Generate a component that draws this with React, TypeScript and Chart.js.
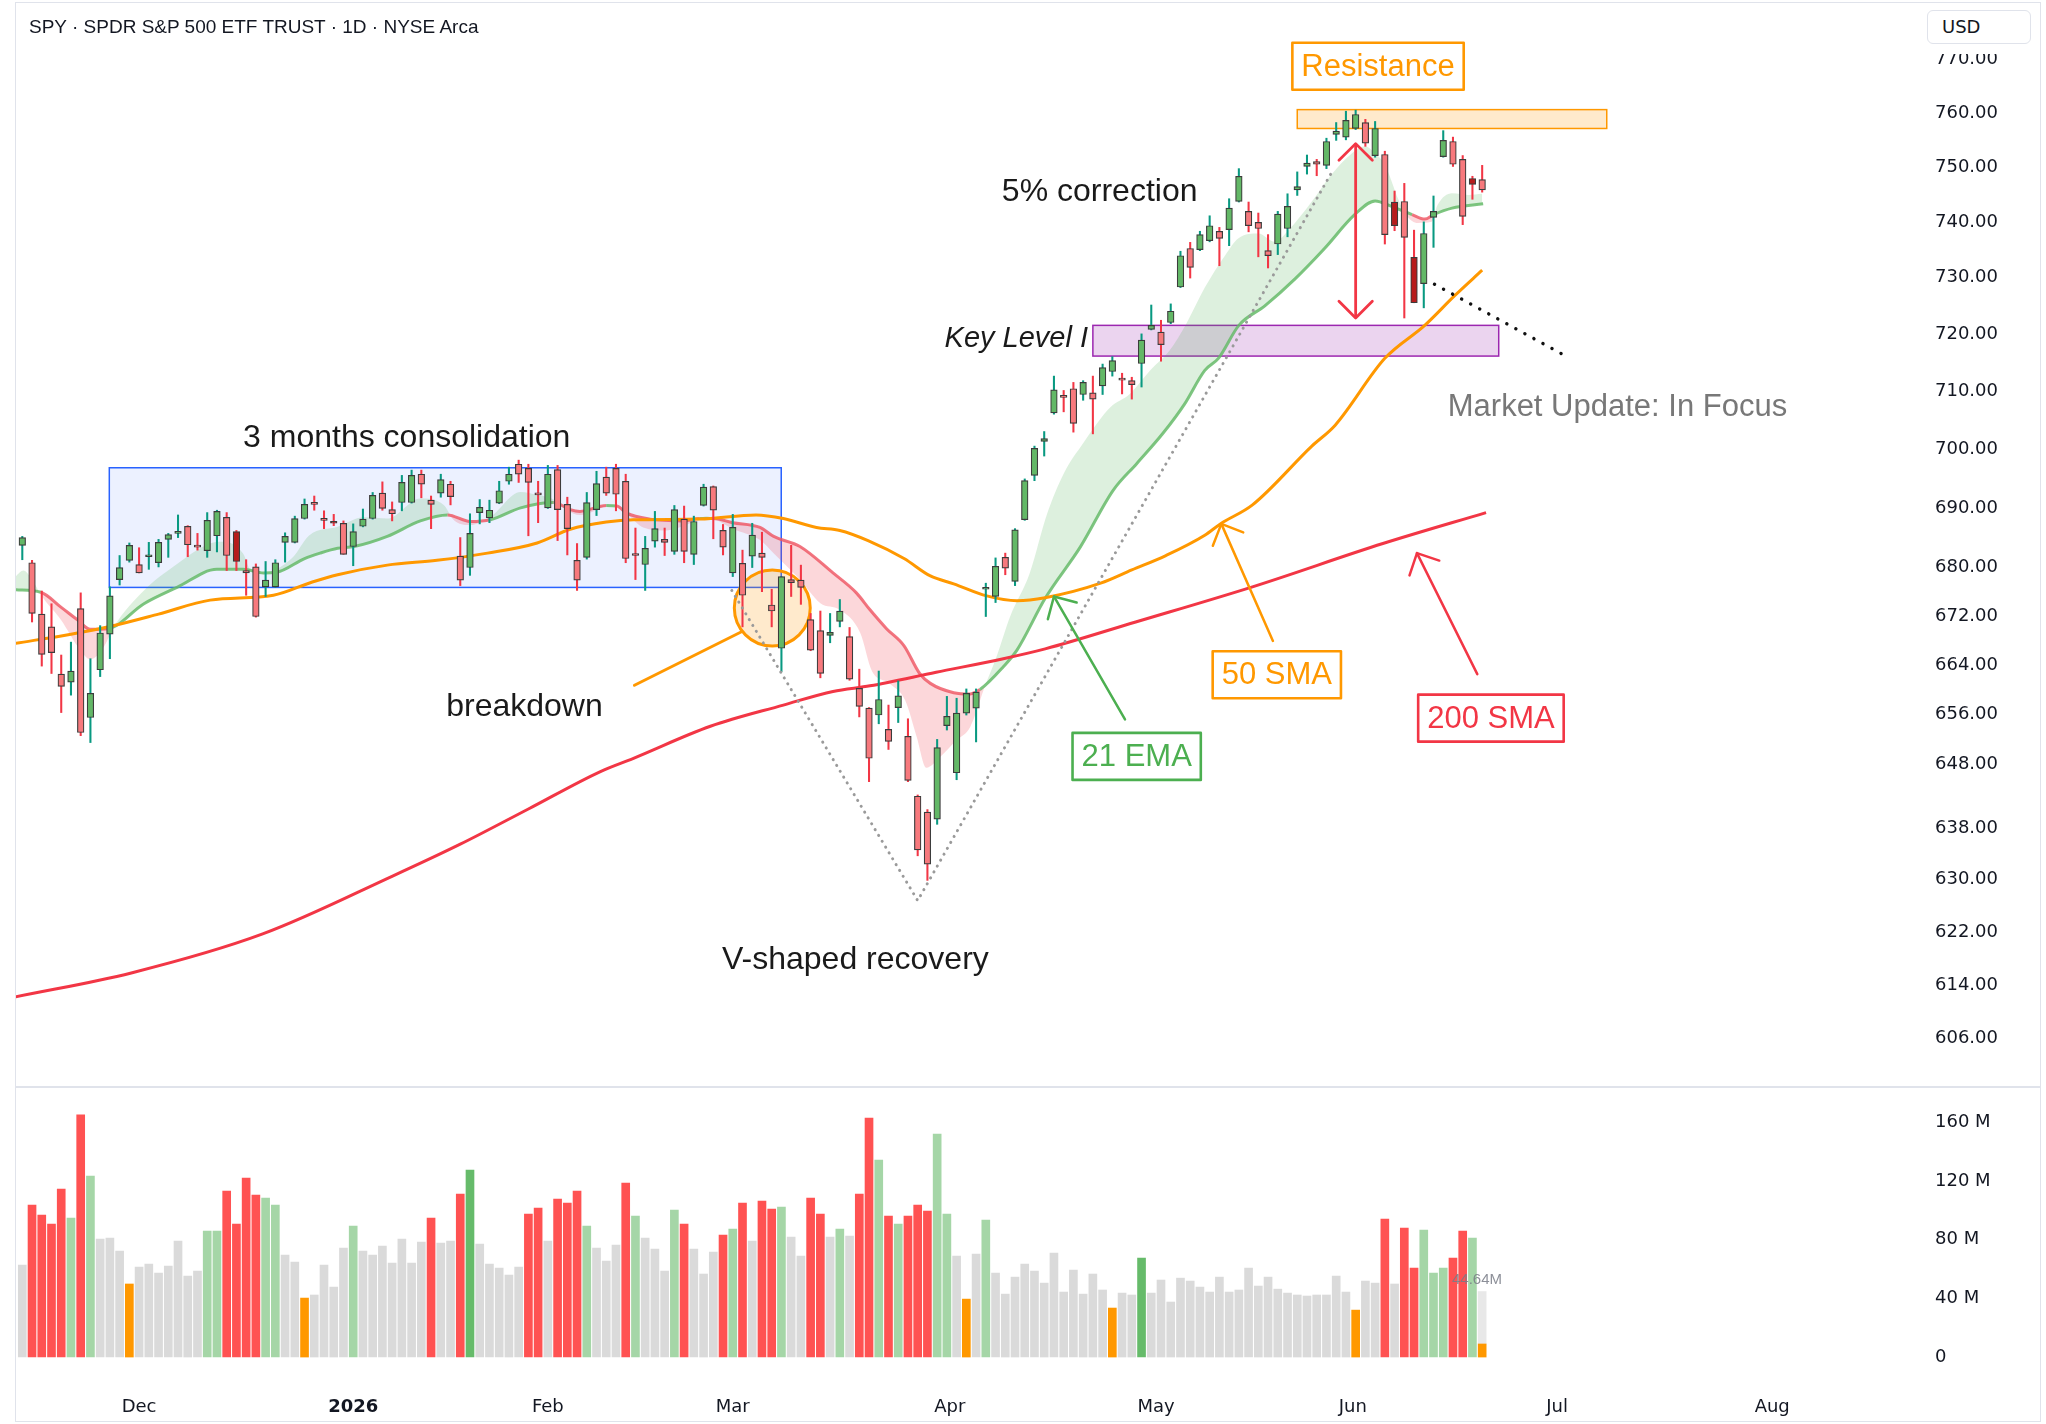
import React, { useEffect, useRef } from 'react';
import { Chart, registerables } from 'chart.js';

Chart.register(...registerables);

// ---------------- data ----------------
const OPEN = [
  683.7, 680.8, 672.3, 670.2, 662.5, 661.2, 673.2, 655.5, 663.2, 669.0,
  678.0, 681.2, 680.5, 681.8, 680.8, 684.7, 685.7, 686.9, 683.5, 682.8,
  685.3, 688.4, 686.0, 679.5, 680.1, 676.8, 676.8, 684.2, 684.2, 688.2,
  690.9, 688.2, 687.7, 687.4, 683.5, 686.9, 688.2, 692.5, 689.7, 690.9,
  690.9, 695.7, 691.3, 692.5, 694.0, 681.9, 680.0, 689.2, 688.3, 690.8,
  694.5, 697.4, 696.7, 692.3, 690.0, 696.5, 690.6, 681.2, 681.7, 689.7,
  695.2, 696.7, 694.5, 682.1, 680.5, 684.4, 684.7, 682.7, 688.1, 682.2,
  690.4, 693.6, 686.2, 679.1, 680.7, 681.9, 682.4, 673.8, 666.7, 678.0,
  677.9, 671.4, 669.6, 668.8, 671.1, 668.6, 660.2, 657.0, 655.9, 653.6,
  657.1, 652.5, 643.0, 640.5, 639.4, 654.2, 646.7, 656.2, 657.0, 676.4,
  675.2, 681.7, 677.7, 688.0, 695.5, 701.3, 706.2, 709.0, 710.4, 709.4,
  709.7, 710.9, 713.4, 712.0, 711.8, 714.8, 720.8, 720.3, 722.0, 728.3,
  735.2, 735.0, 736.6, 738.3, 738.6, 743.7, 741.9, 739.9, 734.8, 736.0,
  738.8, 745.8, 750.1, 751.0, 750.3, 756.0, 755.5, 757.1, 758.2, 752.1,
  752.3, 743.6, 743.7, 733.6, 728.9, 740.8, 751.9, 754.7, 751.4, 747.9, 747.7,
];
const HIGH = [
  685.2, 681.2, 676.1, 674.0, 665.6, 667.7, 675.8, 665.0, 670.4, 676.8,
  682.0, 684.1, 683.3, 684.2, 684.7, 685.7, 688.8, 687.0, 685.7, 689.2,
  689.6, 689.2, 686.2, 681.3, 680.6, 681.0, 681.3, 685.8, 688.6, 691.5,
  692.0, 689.5, 688.9, 687.8, 687.3, 689.8, 692.6, 694.4, 691.0, 695.5,
  696.4, 696.4, 692.0, 695.7, 694.5, 685.0, 689.0, 691.4, 691.3, 694.5,
  696.9, 698.1, 697.4, 694.5, 697.2, 697.2, 691.8, 684.0, 692.6, 696.2,
  696.9, 697.4, 695.7, 686.6, 685.2, 689.4, 686.6, 690.4, 690.3, 688.6,
  694.0, 693.7, 687.2, 688.9, 682.9, 687.4, 685.9, 676.4, 678.5, 683.7,
  680.4, 672.4, 672.8, 672.4, 674.7, 670.1, 663.3, 657.1, 663.0, 657.5,
  661.4, 655.3, 643.2, 640.9, 652.0, 658.9, 658.6, 660.1, 660.1, 677.4,
  681.6, 682.4, 686.5, 694.9, 700.5, 703.0, 712.6, 710.1, 711.5, 711.8,
  712.6, 714.7, 716.0, 713.1, 712.4, 720.0, 725.1, 722.4, 725.3, 734.7,
  736.3, 738.3, 741.1, 739.0, 744.2, 749.7, 743.6, 741.6, 737.7, 741.9,
  745.1, 749.1, 752.2, 751.4, 755.3, 758.2, 760.3, 760.5, 758.8, 758.4,
  752.9, 745.6, 747.0, 738.5, 740.0, 744.7, 756.7, 755.5, 752.1, 748.3, 750.3,
];
const LOW = [
  681.3, 671.0, 663.8, 662.6, 656.3, 659.1, 652.6, 651.5, 662.1, 665.0,
  677.1, 680.9, 679.1, 679.7, 680.1, 681.7, 685.0, 681.8, 682.9, 681.7,
  682.6, 679.5, 679.5, 675.4, 671.8, 675.2, 676.7, 680.9, 684.1, 688.1,
  689.6, 686.5, 687.0, 682.2, 680.3, 686.8, 688.1, 689.6, 687.8, 689.5,
  690.8, 691.7, 686.5, 691.8, 690.5, 677.0, 678.7, 687.3, 687.5, 690.7,
  694.0, 694.3, 685.3, 687.5, 689.9, 684.5, 682.1, 676.2, 681.4, 688.7,
  692.1, 689.5, 680.8, 678.0, 676.2, 683.4, 682.0, 682.2, 680.8, 680.5,
  690.3, 684.8, 682.1, 678.5, 670.2, 680.0, 676.0, 670.2, 662.9, 675.2,
  673.9, 666.3, 661.9, 667.6, 670.2, 661.5, 655.6, 645.3, 654.5, 650.4,
  654.7, 645.3, 633.7, 629.9, 638.6, 653.5, 645.6, 655.9, 651.6, 671.9,
  674.2, 678.8, 677.0, 687.9, 694.6, 698.8, 706.0, 706.4, 702.9, 708.4,
  702.6, 709.4, 712.6, 709.5, 708.6, 710.7, 720.7, 715.2, 721.8, 728.2,
  729.9, 734.8, 736.4, 732.1, 735.7, 743.6, 738.2, 733.7, 731.7, 734.1,
  737.3, 744.8, 748.7, 748.4, 749.7, 754.9, 755.0, 756.9, 753.8, 751.8,
  736.0, 738.4, 722.8, 725.5, 724.6, 735.4, 751.8, 750.1, 739.5, 744.1, 745.4,
];
const CLOSE = [
  685.0, 672.4, 665.7, 666.0, 660.5, 663.0, 653.1, 659.4, 669.2, 675.3,
  680.0, 683.7, 679.1, 682.1, 684.2, 685.5, 686.0, 683.8, 683.4, 687.9,
  689.4, 682.0, 681.0, 679.1, 671.9, 677.9, 680.8, 685.2, 688.2, 690.6,
  690.6, 687.9, 687.4, 682.2, 686.0, 688.1, 692.1, 689.9, 689.0, 694.3,
  695.5, 694.0, 690.6, 694.8, 691.9, 677.9, 685.7, 690.1, 689.6, 692.9,
  695.7, 695.7, 694.3, 692.2, 695.7, 689.7, 686.5, 677.9, 690.9, 694.1,
  692.5, 692.3, 681.5, 682.0, 683.2, 686.5, 684.2, 689.7, 682.7, 687.7,
  693.5, 689.6, 683.4, 686.7, 675.4, 685.4, 681.7, 672.8, 678.5, 677.5,
  676.7, 666.4, 662.6, 669.3, 672.8, 661.7, 657.3, 649.0, 658.4, 651.7,
  659.0, 645.5, 634.6, 632.4, 650.7, 655.7, 656.2, 659.4, 659.6, 676.7,
  680.2, 679.9, 686.3, 694.6, 700.1, 701.8, 710.2, 708.9, 704.4, 711.5,
  708.6, 714.1, 715.3, 711.9, 711.1, 718.9, 721.5, 718.1, 724.0, 733.9,
  731.8, 737.7, 739.3, 737.0, 742.5, 748.3, 739.3, 738.8, 733.9, 741.4,
  742.8, 746.4, 750.7, 750.5, 754.7, 756.6, 758.6, 759.7, 754.4, 757.1,
  737.7, 739.3, 737.2, 725.5, 737.9, 741.9, 754.9, 750.5, 741.0, 746.8, 745.8,
];
// bars drawn with the dark-red body in the reference
const DARK_BARS = [22, 32, 141, 143, 149];

// volume in millions
const VOLUME = [
  62.7, 103.6, 96.8, 90.7, 114.5, 94.7, 165.2, 123.4, 80.4, 81.1,
  72.2, 49.8, 61.3, 63.4, 57.3, 62.0, 79.1, 55.2, 58.6, 85.9,
  85.9, 113.1, 90.7, 122.0, 110.4, 108.4, 103.6, 69.5, 64.8, 40.2,
  42.3, 62.7, 47.7, 74.3, 89.3, 72.2, 69.5, 75.7, 64.1, 80.4,
  64.1, 78.4, 94.7, 77.7, 79.1, 111.1, 127.5, 77.0, 63.4, 60.7,
  55.9, 61.3, 97.5, 101.6, 79.1, 107.7, 105.0, 113.1, 89.3, 74.3,
  65.4, 76.3, 118.6, 96.1, 81.1, 73.6, 58.6, 100.2, 90.7, 73.6,
  56.6, 71.6, 83.2, 87.2, 105.0, 79.1, 106.3, 100.9, 102.2, 81.8,
  68.8, 108.4, 97.5, 81.8, 87.2, 82.5, 111.1, 162.9, 134.3, 96.1,
  90.7, 96.1, 103.6, 99.5, 152.0, 97.5, 68.8, 39.5, 70.2, 93.4,
  57.3, 42.9, 54.5, 63.4, 58.6, 50.4, 70.9, 44.3, 59.3, 42.9,
  56.6, 45.7, 33.4, 43.6, 42.3, 67.5, 43.6, 52.5, 37.5, 53.8,
  51.8, 47.7, 44.3, 54.5, 44.3, 45.7, 60.7, 48.4, 54.5, 46.3,
  43.6, 42.3, 41.6, 42.3, 42.3, 55.2, 44.3, 32.0, 51.8, 50.4,
  94.1, 49.8, 87.9, 60.7, 86.6, 57.3, 60.7, 67.5, 85.9, 81.1, 8.9,
];
// volume bar kind: n = normal, r = heavy down, g = heavy up, G = very heavy up, o = light
const VOLUME_KIND = (
  'nrrrrgrgnn' + 'nonnnnnnng' + 'grrrrggnno' + 'nnnngnnnnn' + 'nnrnnrGnnn' +
  'nnrrnrrrgn' + 'nnrgnnngrn' + 'nnrgrnrrgn' + 'nrrngnrrgr' + 'grrrggnong' +
  'nnnnnnnnnn' + 'nnonnGnnnn' + 'nnnnnnnnnn' + 'nnnnnnnonn' + 'rnrrgggrrgo'
).split('');
const PROJECTED_VOLUME = 44.64;

// moving averages: [bar index, price]
const SMA200 = [
  [-0.7, 612.2], [11.2, 615.8], [24.7, 621.7], [38.1, 630.6], [45.0, 635.5], [52.0, 641.0],
  [59.4, 646.9], [62.8, 649.0], [70.7, 654.1], [78.2, 657.5], [83.3, 659.7], [87.1, 660.6],
  [93.9, 662.8], [100.8, 665.0], [105.1, 666.6], [114.4, 671.0], [126.4, 676.8], [139.8, 684.0],
  [150.4, 689.2],
];
const SMA50 = [
  [-0.7, 667.5], [5, 669.0], [9.1, 670.3], [14, 672.3], [19.3, 674.6], [25.8, 675.4], [29.8, 677.6],
  [32.4, 678.8], [37.5, 680.4], [42.6, 681.2], [47.8, 682.4], [52.9, 684.1], [56.3, 686.4],
  [60, 687.6], [62.8, 688.0], [69.6, 688.1], [75.4, 688.8], [78.2, 688.2], [81.6, 686.7],
  [84.0, 686.2], [86.9, 684.5], [90.6, 681.5], [93.3, 678.6], [95.7, 677.3], [99.1, 675.3],
  [102.2, 674.5], [105.1, 675.0], [110.8, 677.4], [114, 679.6], [117.5, 682.0], [121.5, 685.4],
  [123.1, 687.3], [126.4, 690.5], [132.5, 700.5], [134.9, 704.1], [140.0, 715.7], [144.1, 721.5],
  [147.2, 726.8], [150.0, 731.3],
];
const EMA21 = [
  [-0.7, 676.3], [1.9, 675.9], [4.0, 673.4], [5.7, 671.3], [7.0, 669.8], [8.8, 669.9],
  [12.5, 674.0], [15.9, 676.7], [20.0, 679.7], [22.7, 679.7], [24.8, 679.1], [26.1, 679.2],
  [29.0, 681.5], [30.6, 682.4], [32.4, 683.2], [34.1, 683.5], [37.5, 685.2], [40.9, 687.8],
  [43.7, 688.8], [46.0, 687.7], [48.1, 688.0], [51.2, 690.0], [54.6, 690.9], [56.3, 689.7],
  [57.3, 689.4], [60.0, 690.4], [61.1, 690.3], [62.1, 689.1], [64.5, 688.1], [67.9, 687.8],
  [69.6, 688.2], [71.0, 688.2], [73.0, 687.5], [75.8, 686.7], [77.2, 685.2], [79.9, 683.5],
  [83.3, 679.1], [85.7, 675.8], [87.1, 673.0], [88.8, 669.9], [90.6, 667.1], [92.2, 662.6],
  [93.3, 661.0], [95.7, 659.5], [97.4, 659.3], [98.4, 660.0], [100.8, 663.7], [102.2, 666.4],
  [105.1, 674.9], [108.7, 683.4], [112.1, 693.0], [114.5, 697.5], [117.2, 702.7],
  [119.4, 707.7], [121.5, 713.6], [122.9, 715.7], [125.0, 721.5], [127.7, 725.0], [130.8, 729.8],
  [133.8, 735.2], [136.9, 741.3], [139.0, 743.8], [140.7, 742.8], [142.8, 741.3], [144.1, 740.5],
  [145.0, 741.3], [146.9, 742.5], [150.1, 743.3],
];
// fast EMA that bounds the cloud
const EMA_FAST = [
  [-0.7, 678.5], [0.1, 679.5], [1.0, 678.0], [1.9, 675.5], [4.0, 671.3], [5.7, 667.0], [7.0, 664.9],
  [8.4, 667.0], [9.4, 670.2], [12.5, 676.2], [15.9, 680.6], [19.3, 684.0], [20.6, 684.3],
  [22.7, 682.3], [23.4, 679.7], [24.8, 679.0], [26.1, 679.7], [27.8, 681.7], [29.5, 685.4],
  [32.4, 686.8], [35.1, 688.4], [37.5, 688.2], [40.9, 691.6], [43.3, 690.5], [44.3, 688.0],
  [46.0, 687.1], [48.1, 688.5], [51.2, 692.7], [52.9, 692.2], [54.6, 691.4], [55.9, 689.7],
  [57.3, 688.8], [60.7, 690.5], [62.1, 689.0], [63.8, 686.7], [66.2, 686.2], [68.2, 687.1],
  [69.6, 688.2], [70.3, 688.6], [71.0, 688.2], [73.0, 686.5], [75.8, 684.6], [77.2, 682.4],
  [79.9, 678.0], [82.0, 674.1], [84.0, 673.0], [86.1, 669.2], [87.3, 663.0], [89.1, 661.0],
  [90.7, 658.3], [91.9, 652.4], [92.9, 647.5], [94.3, 649.2], [96.0, 651.9], [97.4, 654.0],
  [98.9, 660.5], [100.1, 665.3], [101.5, 671.9], [103.5, 679.0], [105.3, 689.0], [107.0, 695.8],
  [109.0, 701.0], [111.8, 707.2], [113.8, 709.5], [115.9, 713.6], [117.9, 717.1], [119.6, 721.8],
  [121.5, 728.2], [123.6, 734.0], [125.0, 737.1], [127.0, 737.9], [128.7, 736.4], [130.1, 738.5],
  [132.5, 743.7], [134.5, 748.6], [136.6, 752.5], [138.0, 753.8], [138.8, 752.8], [140.0, 750.4],
  [141.4, 744.0], [142.2, 741.2], [143.4, 739.8], [144.8, 740.0], [145.4, 743.0], [146.9, 745.2],
  [148.6, 744.9], [150.0, 745.1],
];

const PRICE_TICKS = [606, 614, 622, 630, 638, 648, 656, 664, 672, 680, 690, 700, 710, 720, 730, 740, 750, 760, 770];
const VOLUME_TICKS = [0, 40, 80, 120, 160];
const MONTH_TICKS = [12, 34, 54, 73, 95.3, 116.5, 136.7, 157.7, 179.8];
const MONTH_LABELS = ['Dec', '2026', 'Feb', 'Mar', 'Apr', 'May', 'Jun', 'Jul', 'Aug'];

// ---------------- drawings (anchored in data coordinates) ----------------
const ZONES = [
  { x0: 8.94, x1: 77.98, top: 696.8, bottom: 676.7, fill: 'rgba(41,98,255,0.09)', stroke: '#2962ff' },
  { x0: 110.0, x1: 151.7, top: 721.5, bottom: 716.1, fill: 'rgba(156,39,176,0.2)', stroke: '#9c27b0' },
  { x0: 131.0, x1: 162.8, top: 760.6, bottom: 757.1, fill: 'rgba(255,152,0,0.2)', stroke: '#ff9800' },
];
const BREAKDOWN_CIRCLE = { x: 77.06, y: 673.3, r: 3.9 };
const BREAKDOWN_POINTER = [[73.9, 669.4], [62.9, 660.7]];
const V_PATH = [[72.9, 676.2], [92.0, 626.8], [134.6, 749.2]];
const PROJECTION_PATH = [[145.1, 728.8], [158.7, 716.0]];
const CORRECTION_ARROW = { x: 137.0, top: 754.3, bottom: 722.8 };
const POINTERS = [
  { from: [113.3, 655.2], to: [106.0, 675.2], color: '#4caf50' },
  { from: [128.5, 667.9], to: [123.2, 687.3], color: '#ff9800' },
  { from: [149.5, 662.5], to: [143.3, 682.4], color: '#f23645' },
];
const TAGS = [
  { text: 'Resistance', x: 139.3, y: 768.7, color: '#ff9800' },
  { text: '21 EMA', x: 114.5, y: 649.3, color: '#4caf50' },
  { text: '50 SMA', x: 128.9, y: 662.4, color: '#ff9800' },
  { text: '200 SMA', x: 150.9, y: 655.4, color: '#f23645' },
];
const NOTES = [
  { text: '3 months consolidation', x: 39.5, y: 702.1, size: 32, color: '#1a1a1a', italic: false, align: 'center' },
  { text: 'breakdown', x: 51.6, y: 657.4, size: 32, color: '#1a1a1a', italic: false, align: 'center' },
  { text: 'V-shaped recovery', x: 85.6, y: 617.8, size: 32, color: '#1a1a1a', italic: false, align: 'center' },
  { text: '5% correction', x: 110.7, y: 745.5, size: 32, color: '#1a1a1a', italic: false, align: 'center' },
  { text: 'Key Level I', x: 109.5, y: 719.3, size: 29, color: '#1a1a1a', italic: true, align: 'right' },
  { text: 'Market Update: In Focus', x: 163.9, y: 707.3, size: 31, color: '#787878', italic: false, align: 'center' },
];

// ---------------- geometry / style ----------------
const X_MIN = -0.647;
const X_MAX = 195.5;
const P_MIN = 599.0;
const P_MAX = 780.7;
const V_MIN = -17.7;
const V_MAX = 184.1;
const AXIS_W = 116;
const TEXT_FONT = '"Liberation Sans", Arial, sans-serif';
const AXIS_FONT = 'DejaVu Sans';

const UP_BODY = '#63b867';
const DOWN_BODY = '#f7797d';
const DARK_BODY = '#b71c1c';
const UP_WICK = '#089981';
const DOWN_WICK = '#f23645';
const EMA_UP = 'rgba(102,187,106,0.85)';
const EMA_DOWN = 'rgba(239,83,96,0.8)';
const VOL_COLORS: Record<string, string> = { n: '#dadada', r: '#ff5252', g: '#a5d6a7', G: '#66bb6a', o: '#ff9800' };

const valueAt = (series: number[][], x: number) => {
  if (x <= series[0][0]) return series[0][1];
  for (let k = 1; k < series.length; k++) {
    if (x <= series[k][0]) {
      const [x0, y0] = series[k - 1];
      const [x1, y1] = series[k];
      return y0 + ((y1 - y0) * (x - x0)) / (x1 - x0);
    }
  }
  return series[series.length - 1][1];
};

const toXY = (s: number[][]) => s.map(([x, y]) => ({ x, y }));
const idx = OPEN.map((_, i) => i);

function arrowHead(ctx: CanvasRenderingContext2D, tx: number, ty: number, fx: number, fy: number, len: number, deg: number) {
  const a = Math.atan2(fy - ty, fx - tx);
  const d = (deg * Math.PI) / 180;
  ctx.beginPath();
  ctx.moveTo(tx + len * Math.cos(a + d), ty + len * Math.sin(a + d));
  ctx.lineTo(tx, ty);
  ctx.lineTo(tx + len * Math.cos(a - d), ty + len * Math.sin(a - d));
  ctx.stroke();
}

const priceDrawings = {
  id: 'priceDrawings',
  beforeDatasetsDraw(chart: any) {
    const { ctx } = chart;
    const X = chart.scales.x;
    const Y = chart.scales.y;
    ctx.save();
    for (const z of ZONES) {
      const x0 = X.getPixelForValue(z.x0);
      const x1 = X.getPixelForValue(z.x1);
      const y0 = Y.getPixelForValue(z.top);
      const y1 = Y.getPixelForValue(z.bottom);
      ctx.fillStyle = z.fill;
      ctx.fillRect(x0, y0, x1 - x0, y1 - y0);
      ctx.strokeStyle = z.stroke;
      ctx.lineWidth = 1.5;
      ctx.strokeRect(x0, y0, x1 - x0, y1 - y0);
    }
    const cx = X.getPixelForValue(BREAKDOWN_CIRCLE.x);
    const cy = Y.getPixelForValue(BREAKDOWN_CIRCLE.y);
    const r = X.getPixelForValue(BREAKDOWN_CIRCLE.x + BREAKDOWN_CIRCLE.r) - cx;
    ctx.beginPath();
    ctx.arc(cx, cy, r, 0, Math.PI * 2);
    ctx.fillStyle = 'rgba(255,152,0,0.2)';
    ctx.fill();
    ctx.lineWidth = 3;
    ctx.strokeStyle = '#ff9800';
    ctx.stroke();
    ctx.restore();
  },
  afterDatasetsDraw(chart: any) {
    const { ctx } = chart;
    const X = chart.scales.x;
    const Y = chart.scales.y;
    const P = (p: number[]) => [X.getPixelForValue(p[0]), Y.getPixelForValue(p[1])];
    ctx.save();
    ctx.lineCap = 'round';
    ctx.lineJoin = 'round';

    // breakdown pointer
    ctx.strokeStyle = '#ff9800';
    ctx.lineWidth = 3;
    ctx.beginPath();
    const [a0x, a0y] = P(BREAKDOWN_POINTER[0]);
    const [a1x, a1y] = P(BREAKDOWN_POINTER[1]);
    ctx.moveTo(a0x, a0y);
    ctx.lineTo(a1x, a1y);
    ctx.stroke();

    // dotted V path
    ctx.setLineDash([0.1, 6.7]);
    ctx.strokeStyle = '#9a9a9a';
    ctx.lineWidth = 3;
    ctx.beginPath();
    V_PATH.forEach((p, k) => {
      const [x, y] = P(p);
      if (k === 0) ctx.moveTo(x, y);
      else ctx.lineTo(x, y);
    });
    ctx.stroke();

    // dotted projection
    ctx.setLineDash([0.1, 10.2]);
    ctx.strokeStyle = '#111111';
    ctx.lineWidth = 3.4;
    ctx.beginPath();
    const [b0x, b0y] = P(PROJECTION_PATH[0]);
    const [b1x, b1y] = P(PROJECTION_PATH[1]);
    ctx.moveTo(b0x, b0y);
    ctx.lineTo(b1x, b1y);
    ctx.stroke();
    ctx.setLineDash([]);

    // correction double arrow
    const cxp = X.getPixelForValue(CORRECTION_ARROW.x);
    const ctp = Y.getPixelForValue(CORRECTION_ARROW.top);
    const cbp = Y.getPixelForValue(CORRECTION_ARROW.bottom);
    ctx.strokeStyle = '#f23645';
    ctx.lineWidth = 2.8;
    ctx.lineCap = 'butt';
    ctx.beginPath();
    ctx.moveTo(cxp, ctp);
    ctx.lineTo(cxp, cbp);
    ctx.stroke();
    ctx.lineCap = 'round';
    arrowHead(ctx, cxp, ctp, cxp, cbp, 23.6, 45);
    arrowHead(ctx, cxp, cbp, cxp, ctp, 23.6, 45);

    // label pointers
    for (const a of POINTERS) {
      const [fx, fy] = P(a.from);
      const [tx, ty] = P(a.to);
      ctx.strokeStyle = a.color;
      ctx.lineWidth = 2.5;
      ctx.beginPath();
      ctx.moveTo(fx, fy);
      ctx.lineTo(tx, ty);
      ctx.stroke();
      arrowHead(ctx, tx, ty, fx, fy, 23.5, 45);
    }

    // boxed tags
    ctx.textBaseline = 'middle';
    ctx.textAlign = 'center';
    ctx.font = `31px ${TEXT_FONT}`;
    for (const t of TAGS) {
      const [x, y] = P([t.x, t.y]);
      const w = ctx.measureText(t.text).width + 18;
      const h = 47;
      ctx.strokeStyle = t.color;
      ctx.lineWidth = 2.6;
      ctx.strokeRect(x - w / 2, y - h / 2, w, h);
      ctx.fillStyle = t.color;
      ctx.fillText(t.text, x, y + 1);
    }

    // free notes
    for (const n of NOTES) {
      const [x, y] = P([n.x, n.y]);
      ctx.font = `${n.italic ? 'italic ' : ''}${n.size}px ${TEXT_FONT}`;
      ctx.textAlign = n.align as CanvasTextAlign;
      ctx.fillStyle = n.color;
      ctx.fillText(n.text, x, y + 1);
    }
    ctx.restore();
  },
};

const volumeDrawings = {
  id: 'volumeDrawings',
  afterDatasetsDraw(chart: any) {
    const { ctx } = chart;
    const X = chart.scales.x;
    const Y = chart.scales.y;
    ctx.save();
    ctx.font = `15px ${TEXT_FONT}`;
    ctx.fillStyle = 'rgba(120,123,134,0.85)';
    ctx.textAlign = 'left';
    ctx.textBaseline = 'middle';
    ctx.fillText(`${PROJECTED_VOLUME.toFixed(2)}M`, X.getPixelForValue(146.9), Y.getPixelForValue(52.8));
    ctx.restore();
  },
};

function priceConfig(): any {
  return {
    type: 'bar',
    data: {
      datasets: [
        {
          type: 'line',
          data: toXY(EMA_FAST),
          borderWidth: 0,
          borderColor: 'rgba(0,0,0,0)',
          pointRadius: 0,
          cubicInterpolationMode: 'monotone',
          fill: { target: 1, above: 'rgba(76,175,80,0.19)', below: 'rgba(242,54,69,0.2)' },
          order: 10,
        },
        {
          type: 'line',
          data: toXY(EMA21),
          borderWidth: 3,
          borderColor: EMA_UP,
          pointRadius: 0,
          cubicInterpolationMode: 'monotone',
          fill: false,
          segment: {
            borderColor: (c: any) => {
              const xm = (c.p0.parsed.x + c.p1.parsed.x) / 2;
              return valueAt(EMA_FAST, xm) >= valueAt(EMA21, xm) ? EMA_UP : EMA_DOWN;
            },
          },
          order: 9,
        },
        {
          type: 'line',
          data: toXY(SMA50),
          borderWidth: 3,
          borderColor: '#ff9800',
          pointRadius: 0,
          cubicInterpolationMode: 'monotone',
          fill: false,
          order: 8,
        },
        {
          type: 'line',
          data: toXY(SMA200),
          borderWidth: 3,
          borderColor: '#f23645',
          pointRadius: 0,
          cubicInterpolationMode: 'monotone',
          fill: false,
          order: 7,
        },
        {
          type: 'bar',
          data: idx.map((i) => ({ x: i, y: [LOW[i], HIGH[i]] })),
          backgroundColor: (c: any) => (c.dataIndex !== undefined && CLOSE[c.dataIndex] >= OPEN[c.dataIndex] ? UP_WICK : DOWN_WICK),
          borderWidth: 0,
          barThickness: 1.4,
          maxBarThickness: 1.4,
          grouped: false,
          order: 2,
        },
        {
          type: 'bar',
          data: idx.map((i) => ({ x: i, y: [OPEN[i], CLOSE[i]] })),
          backgroundColor: (c: any) => {
            const i = c.dataIndex;
            if (i === undefined) return UP_BODY;
            if (DARK_BARS.includes(i)) return DARK_BODY;
            return CLOSE[i] >= OPEN[i] ? UP_BODY : DOWN_BODY;
          },
          borderColor: '#3c3c3c',
          borderWidth: 1.2,
          borderSkipped: false,
          barThickness: 6.6,
          maxBarThickness: 6.6,
          minBarLength: 2,
          grouped: false,
          order: 1,
        },
      ],
    },
    options: {
      animation: false,
      responsive: false,
      events: [],
      layout: { padding: 0 },
      plugins: { legend: { display: false }, tooltip: { enabled: false }, title: { display: false } },
      scales: {
        x: { type: 'linear', min: X_MIN, max: X_MAX, offset: false, display: false, grid: { display: false } },
        y: {
          type: 'logarithmic',
          position: 'right',
          min: P_MIN,
          max: P_MAX,
          grid: { display: false, drawTicks: false },
          border: { display: false },
          afterBuildTicks: (s: any) => {
            s.ticks = PRICE_TICKS.map((v) => ({ value: v }));
          },
          afterFit: (s: any) => {
            s.width = AXIS_W;
            s.paddingTop = 0;
            s.paddingBottom = 0;
          },
          ticks: {
            autoSkip: false,
            padding: 10,
            color: '#131722',
            font: { family: AXIS_FONT, size: 18 },
            callback: (v: any) => Number(v).toFixed(2),
          },
        },
      },
    },
    plugins: [priceDrawings],
  };
}

function volumeConfig(): any {
  return {
    type: 'bar',
    data: {
      datasets: [
        {
          data: [{ x: 150, y: [VOLUME[150], PROJECTED_VOLUME] }],
          backgroundColor: 'rgba(205,205,205,0.45)',
          borderWidth: 0,
          barThickness: 8,
          maxBarThickness: 8,
          grouped: false,
          order: 3,
        },
        {
          data: VOLUME.map((v, i) => ({ x: i, y: v })),
          backgroundColor: (c: any) => (c.dataIndex === undefined ? '#dadada' : VOL_COLORS[VOLUME_KIND[c.dataIndex]]),
          borderWidth: 0,
          barThickness: 8,
          maxBarThickness: 8,
          grouped: false,
          order: 1,
        },
      ],
    },
    options: {
      animation: false,
      responsive: false,
      events: [],
      layout: { padding: 0 },
      plugins: { legend: { display: false }, tooltip: { enabled: false }, title: { display: false } },
      scales: {
        x: {
          type: 'linear',
          min: X_MIN,
          max: X_MAX,
          offset: false,
          grid: { display: false, drawTicks: false },
          border: { display: false },
          afterBuildTicks: (s: any) => {
            s.ticks = MONTH_TICKS.map((v) => ({ value: v }));
          },
          afterFit: (s: any) => {
            s.height = 38;
            s.paddingLeft = 0;
            s.paddingRight = 0;
          },
          ticks: {
            autoSkip: false,
            maxRotation: 0,
            minRotation: 0,
            padding: 14,
            color: '#131722',
            font: (c: any) => ({
              family: AXIS_FONT,
              size: 18,
              weight: c.tick && c.tick.value === MONTH_TICKS[1] ? 'bold' : 'normal',
            }),
            callback: (v: any) => {
              const k = MONTH_TICKS.indexOf(Number(v));
              return k >= 0 ? MONTH_LABELS[k] : '';
            },
          },
        },
        y: {
          type: 'linear',
          position: 'right',
          min: V_MIN,
          max: V_MAX,
          grid: { display: false, drawTicks: false },
          border: { display: false },
          afterBuildTicks: (s: any) => {
            s.ticks = VOLUME_TICKS.map((v) => ({ value: v }));
          },
          afterFit: (s: any) => {
            s.width = AXIS_W;
            s.paddingTop = 0;
            s.paddingBottom = 0;
          },
          ticks: {
            autoSkip: false,
            padding: 10,
            color: '#131722',
            font: { family: AXIS_FONT, size: 18 },
            callback: (v: any) => (Number(v) === 0 ? '0' : `${v} M`),
          },
        },
      },
    },
    plugins: [volumeDrawings],
  };
}

export default function App() {
  const priceRef = useRef<HTMLCanvasElement | null>(null);
  const volumeRef = useRef<HTMLCanvasElement | null>(null);

  useEffect(() => {
    const pc = new Chart(priceRef.current as HTMLCanvasElement, priceConfig());
    const vc = new Chart(volumeRef.current as HTMLCanvasElement, volumeConfig());
    return () => {
      pc.destroy();
      vc.destroy();
    };
  }, []);

  const border = '#e0e3eb';
  return (
    <div style={{ position: 'absolute', left: 0, top: 0, width: 2046, height: 1424, background: '#ffffff', overflow: 'hidden' }}>
      <div style={{ position: 'absolute', left: 15, top: 2, width: 2026, height: 1420, border: `1.5px solid ${border}`, boxSizing: 'border-box' }} />
      <canvas ref={priceRef} width={2025} height={1083} style={{ position: 'absolute', left: 16, top: 3, width: 2025, height: 1083 }} />
      <div style={{ position: 'absolute', left: 15, top: 1086, width: 2026, height: 1.5, background: border }} />
      <canvas ref={volumeRef} width={2025} height={334} style={{ position: 'absolute', left: 16, top: 1087, width: 2025, height: 334 }} />
      <div
        style={{
          position: 'absolute',
          left: 29,
          top: 15,
          fontFamily: TEXT_FONT,
          fontSize: 19,
          lineHeight: '24px',
          color: '#131722',
          whiteSpace: 'nowrap',
        }}
      >
        SPY · SPDR S&amp;P 500 ETF TRUST · 1D · NYSE Arca
      </div>
      <div style={{ position: 'absolute', left: 1926, top: 4, width: 112, height: 50, background: '#ffffff' }} />
      <div
        style={{
          position: 'absolute',
          left: 1927,
          top: 10,
          width: 104,
          height: 34,
          border: `1px solid ${border}`,
          borderRadius: 6,
          boxSizing: 'border-box',
          fontFamily: AXIS_FONT,
          fontSize: 18,
          lineHeight: '32px',
          color: '#131722',
          paddingLeft: 14,
        }}
      >
        USD
      </div>
    </div>
  );
}
